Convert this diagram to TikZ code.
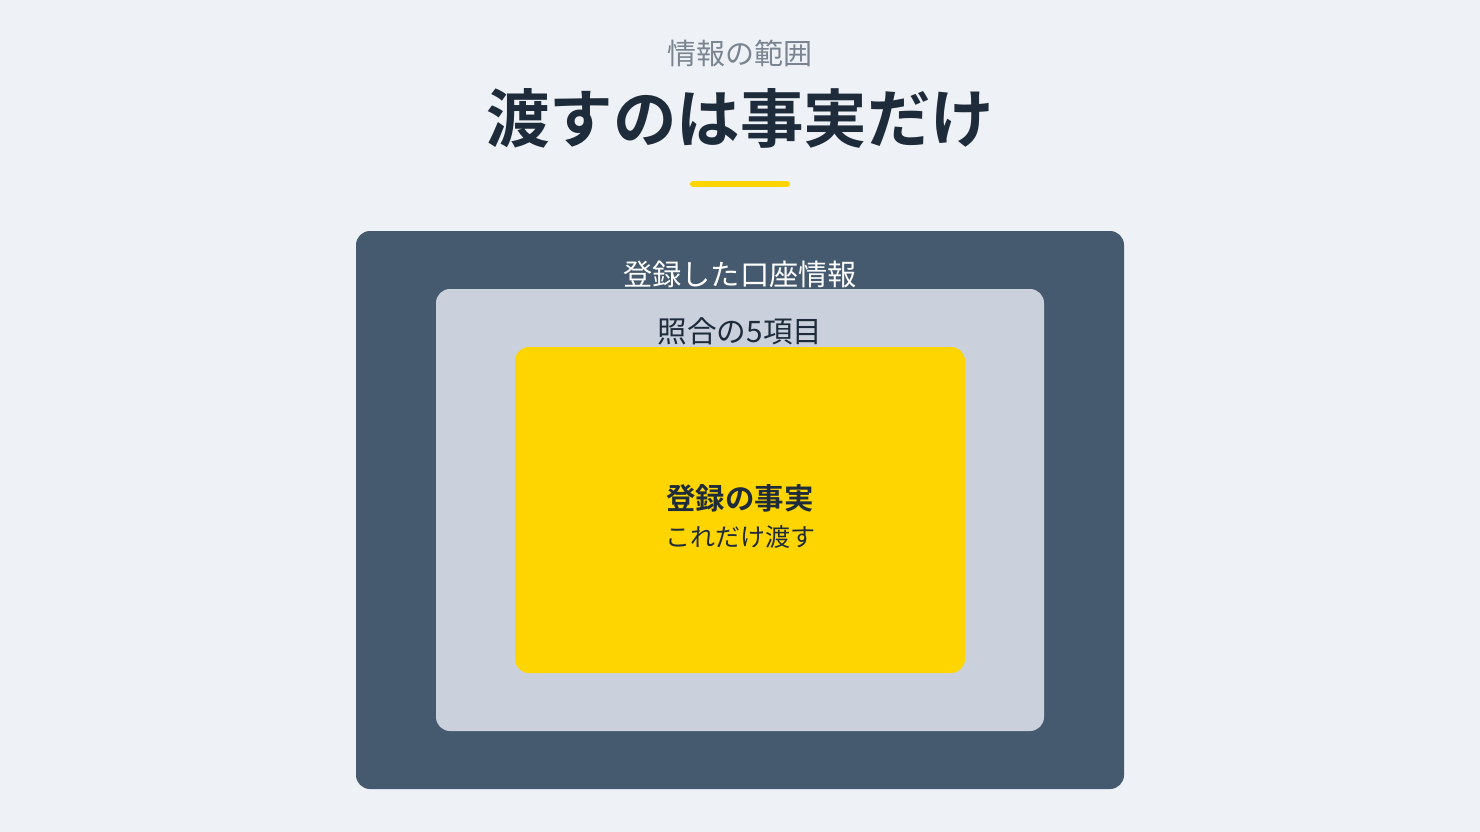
\documentclass[tikz,border=0pt]{standalone}
\usepackage{fontspec}
\setmainfont{Noto Sans CJK JP}
\newfontfamily\jpbold{Noto Sans CJK JP Bold}
\definecolor{bg}{HTML}{EEF2F6}
\definecolor{outerc}{HTML}{465A6F}
\definecolor{midc}{HTML}{CAD1DC}
\definecolor{yel}{HTML}{FFD500}
\definecolor{darkt}{HTML}{1E2B3A}
\definecolor{grayt}{HTML}{7A8591}
\begin{document}
\begin{tikzpicture}[x=1pt,y=-1pt,
  box/.style={rounded corners=14pt},
  lbl/.style={inner sep=0pt,anchor=center}]
\useasboundingbox (0,0) rectangle (1480,832);
\fill[bg] (0,0) rectangle (1480,832);
\node[lbl,text=grayt,font=\fontsize{29}{33}\selectfont] (sub) at (740,53) {情報の範囲};
\node[lbl,text=darkt,font=\jpbold\fontsize{63.5}{70}\selectfont] (title) at (740,118) {渡すのは事実だけ};
\coordinate (ul1) at (693,184);
\coordinate (ul2) at (787,184);
\draw[yel,line width=6pt,line cap=round] (ul1) -- (ul2);
\fill[outerc,box] (356,231) rectangle (1124,789);
\node[lbl,text=white,font=\fontsize{29.2}{33}\selectfont] (l1) at (740,274) {登録した口座情報};
\fill[midc,box] (436,289) rectangle (1044,731);
\node[lbl,text=darkt,font=\fontsize{29.6}{33}\selectfont] (l2) at (740,331) {照合の5項目};
\fill[yel,box] (515,347) rectangle (965,673);
\node[lbl,text=darkt,font=\jpbold\fontsize{29.4}{34}\selectfont] (l3) at (740,498) {登録の事実};
\node[lbl,text=darkt,font=\fontsize{25}{30}\selectfont] (l4) at (740,537) {これだけ渡す};
\end{tikzpicture}
\end{document}
